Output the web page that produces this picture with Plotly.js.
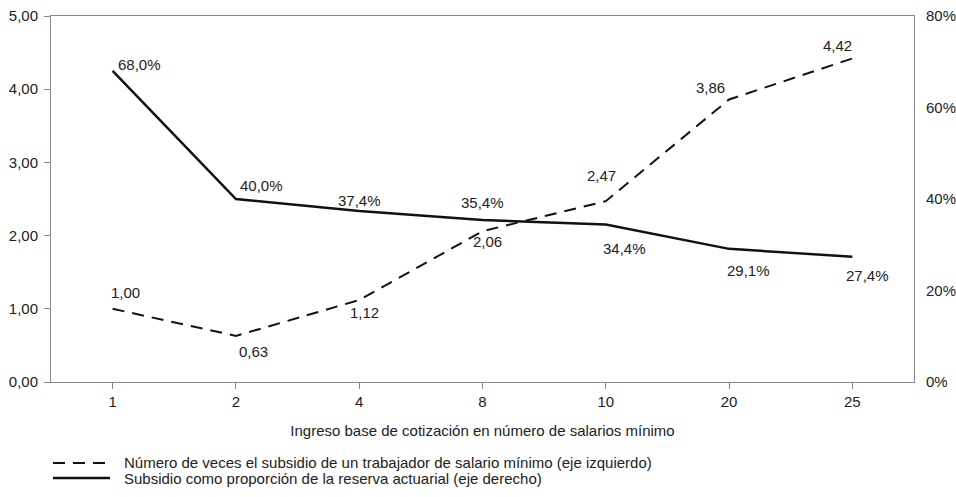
<!DOCTYPE html>
<html>
<head>
<meta charset="utf-8">
<script src="https://cdn.plot.ly/plotly-3.0.1.min.js"></script>
<style>html,body{margin:0;padding:0;background:#fff}</style>
</head>
<body>
<div id="chart" style="width:956px;height:497px"></div>
<script>
// Categorías: ingreso base de cotización (número de salarios mínimos)
const categorias = ['1', '2', '4', '8', '10', '20', '25'];
// Número de veces el subsidio de un trabajador de salario mínimo (eje izquierdo)
const vecesSubsidio = [1.00, 0.63, 1.12, 2.06, 2.47, 3.86, 4.42];
// Subsidio como proporción de la reserva actuarial, en % (eje derecho)
const proporcionReserva = [68.0, 40.0, 37.4, 35.4, 34.4, 29.1, 27.4];

const nombreVeces = 'Número de veces el subsidio de un trabajador de salario mínimo (eje izquierdo)';
const nombreProporcion = 'Subsidio como proporción de la reserva actuarial (eje derecho)';

// Desplazamiento de cada etiqueta respecto a su punto (px)
const despVeces = [[13, 16], [18, -16], [5, -12], [5, -10], [-4, 26], [-19, 12], [-15, 13]];
const despProp = [[27, 6], [26, 14], [0, 10], [0, 18], [19, -24], [19, -22], [15, -19]];

const FONT = '"Liberation Sans", Arial, sans-serif';
const TXT = '#222';
const fmt = (v, d) => v.toFixed(d).replace('.', ',');
const DASH = '12px,8px';

const trazas = [
  {
    x: categorias, y: vecesSubsidio, name: nombreVeces, type: 'scatter', mode: 'lines',
    line: {color: '#111', width: 2, dash: DASH}, yaxis: 'y', showlegend: false
  },
  {
    x: categorias, y: proporcionReserva, name: nombreProporcion, type: 'scatter', mode: 'lines',
    line: {color: '#111', width: 2.5}, yaxis: 'y2', showlegend: false
  }
];

// Etiquetas de valor; x es el índice de la categoría
const anotaciones = [];
categorias.forEach((c, i) => {
  anotaciones.push({
    x: i, y: vecesSubsidio[i], xref: 'x', yref: 'y', text: fmt(vecesSubsidio[i], 2),
    showarrow: false, xshift: despVeces[i][0], yshift: despVeces[i][1],
    font: {family: FONT, size: 15, color: TXT}
  });
  anotaciones.push({
    x: i, y: proporcionReserva[i], xref: 'x', yref: 'y2', text: fmt(proporcionReserva[i], 1) + '%',
    showarrow: false, xshift: despProp[i][0], yshift: despProp[i][1],
    font: {family: FONT, size: 15, color: TXT}
  });
});

// Leyenda dibujada bajo el gráfico
const leyenda = [
  {nombre: nombreVeces, dash: DASH, width: 2, y: -0.2213},
  {nombre: nombreProporcion, dash: 'solid', width: 2.5, y: -0.2623}
];
const formas = leyenda.map(l => ({
  type: 'line', xref: 'paper', yref: 'paper', x0: 0.0023, x1: 0.0684, y0: l.y, y1: l.y,
  line: {color: '#111', width: l.width, dash: l.dash}
}));
leyenda.forEach(l => anotaciones.push({
  xref: 'paper', yref: 'paper', x: 0.0825, y: l.y, xanchor: 'left', yanchor: 'middle',
  text: l.nombre, showarrow: false, font: {family: FONT, size: 15, color: TXT}
}));

const layout = {
  width: 956, height: 497,
  margin: {l: 51, r: 42, t: 16, b: 115},
  paper_bgcolor: '#fff', plot_bgcolor: '#fff',
  font: {family: FONT, size: 15, color: TXT},
  showlegend: false,
  xaxis: {
    type: 'category', range: [-0.5, 6.5], automargin: false,
    showline: true, linecolor: '#888', linewidth: 1, mirror: true,
    ticks: 'outside', ticklen: 6, tickcolor: '#888',
    showgrid: false, zeroline: false,
    tickfont: {family: FONT, size: 15, color: TXT},
    title: {text: 'Ingreso base de cotización en número de salarios mínimo', standoff: 16,
            font: {family: FONT, size: 15, color: TXT}}
  },
  yaxis: {
    range: [0, 5], dtick: 1, tickformat: '.2f', automargin: false,
    showline: true, linecolor: '#888', linewidth: 1,
    ticks: 'outside', ticklen: 6, tickcolor: '#888', ticklabelstandoff: 3,
    showgrid: false, zeroline: false,
    tickfont: {family: FONT, size: 15, color: TXT}
  },
  yaxis2: {
    range: [0, 80], dtick: 20, ticksuffix: '%', overlaying: 'y', side: 'right', automargin: false,
    showline: true, linecolor: '#888', linewidth: 1,
    ticks: '', showgrid: false, zeroline: false, ticklabelstandoff: 8,
    tickfont: {family: FONT, size: 15, color: TXT}
  },
  separators: ',.',
  shapes: formas,
  annotations: anotaciones
};

Plotly.newPlot('chart', trazas, layout, {displayModeBar: false, staticPlot: true});
</script>
</body>
</html>
